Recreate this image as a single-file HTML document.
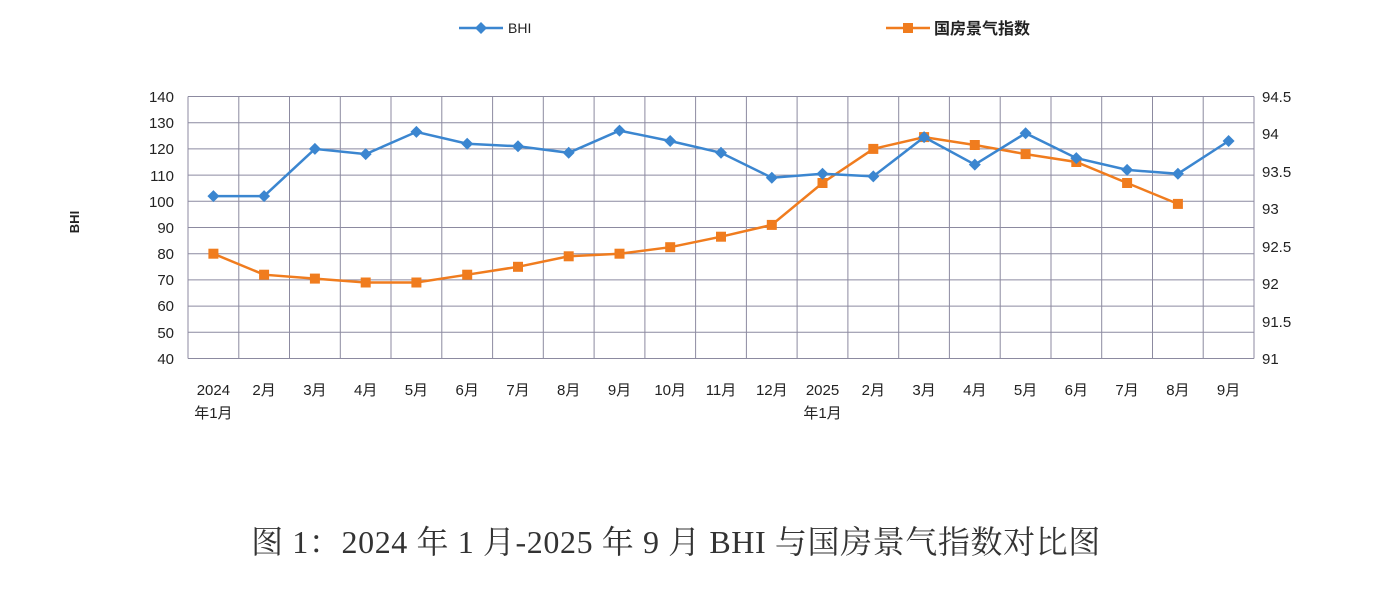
<!DOCTYPE html><html><head><meta charset="utf-8"><style>body{margin:0;background:#fff}svg{display:block}</style></head><body>
<svg width="1392" height="592" xmlns="http://www.w3.org/2000/svg" font-family="Liberation Sans, Noto Sans CJK SC, sans-serif">
<defs>
<marker id="d" markerWidth="14" markerHeight="14" refX="7" refY="7" markerUnits="userSpaceOnUse"><polygon points="7,1 13,7 7,13 1,7" fill="#3b86d0"/></marker>
<marker id="s" markerWidth="12" markerHeight="12" refX="6" refY="6" markerUnits="userSpaceOnUse"><rect x="1" y="1" width="10" height="10" fill="#f07c1e"/></marker>
</defs>
<rect width="1392" height="592" fill="#fff"/>
<g stroke="#8c8aa0" stroke-width="1">
<line x1="188" x2="1254" y1="96.5" y2="96.5"/><line x1="188" x2="1254" y1="122.7" y2="122.7"/><line x1="188" x2="1254" y1="148.9" y2="148.9"/><line x1="188" x2="1254" y1="175.1" y2="175.1"/><line x1="188" x2="1254" y1="201.3" y2="201.3"/><line x1="188" x2="1254" y1="227.5" y2="227.5"/><line x1="188" x2="1254" y1="253.7" y2="253.7"/><line x1="188" x2="1254" y1="279.9" y2="279.9"/><line x1="188" x2="1254" y1="306.1" y2="306.1"/><line x1="188" x2="1254" y1="332.3" y2="332.3"/><line x1="188" x2="1254" y1="358.5" y2="358.5"/>
<line x1="188" x2="188" y1="96.5" y2="358.5"/><line x1="238.8" x2="238.8" y1="96.5" y2="358.5"/><line x1="289.5" x2="289.5" y1="96.5" y2="358.5"/><line x1="340.3" x2="340.3" y1="96.5" y2="358.5"/><line x1="391" x2="391" y1="96.5" y2="358.5"/><line x1="441.8" x2="441.8" y1="96.5" y2="358.5"/><line x1="492.6" x2="492.6" y1="96.5" y2="358.5"/><line x1="543.3" x2="543.3" y1="96.5" y2="358.5"/><line x1="594.1" x2="594.1" y1="96.5" y2="358.5"/><line x1="644.9" x2="644.9" y1="96.5" y2="358.5"/><line x1="695.6" x2="695.6" y1="96.5" y2="358.5"/><line x1="746.4" x2="746.4" y1="96.5" y2="358.5"/><line x1="797.1" x2="797.1" y1="96.5" y2="358.5"/><line x1="847.9" x2="847.9" y1="96.5" y2="358.5"/><line x1="898.7" x2="898.7" y1="96.5" y2="358.5"/><line x1="949.4" x2="949.4" y1="96.5" y2="358.5"/><line x1="1000.2" x2="1000.2" y1="96.5" y2="358.5"/><line x1="1051" x2="1051" y1="96.5" y2="358.5"/><line x1="1101.7" x2="1101.7" y1="96.5" y2="358.5"/><line x1="1152.5" x2="1152.5" y1="96.5" y2="358.5"/><line x1="1203.2" x2="1203.2" y1="96.5" y2="358.5"/><line x1="1254" x2="1254" y1="96.5" y2="358.5"/>
</g>
<g font-size="15" fill="#222" text-anchor="end">
<text x="174" y="102">140</text><text x="174" y="128">130</text><text x="174" y="154">120</text><text x="174" y="181">110</text><text x="174" y="207">100</text><text x="174" y="233">90</text><text x="174" y="259">80</text><text x="174" y="285">70</text><text x="174" y="311">60</text><text x="174" y="338">50</text><text x="174" y="364">40</text>
</g>
<g font-size="15" fill="#222">
<text x="1262" y="102">94.5</text><text x="1262" y="139">94</text><text x="1262" y="177">93.5</text><text x="1262" y="214">93</text><text x="1262" y="252">92.5</text><text x="1262" y="289">92</text><text x="1262" y="327">91.5</text><text x="1262" y="364">91</text>
</g>
<g font-size="15" fill="#222" text-anchor="middle">
<text x="213.4" y="395">2024</text><text x="264.1" y="395">2月</text><text x="314.9" y="395">3月</text><text x="365.7" y="395">4月</text><text x="416.4" y="395">5月</text><text x="467.2" y="395">6月</text><text x="518" y="395">7月</text><text x="568.7" y="395">8月</text><text x="619.5" y="395">9月</text><text x="670.2" y="395">10月</text><text x="721" y="395">11月</text><text x="771.8" y="395">12月</text><text x="822.5" y="395">2025</text><text x="873.3" y="395">2月</text><text x="924.1" y="395">3月</text><text x="974.8" y="395">4月</text><text x="1025.6" y="395">5月</text><text x="1076.3" y="395">6月</text><text x="1127.1" y="395">7月</text><text x="1177.9" y="395">8月</text><text x="1228.6" y="395">9月</text>
<text x="213.4" y="418">年1月</text><text x="822.5" y="418">年1月</text>
</g>
<polyline fill="none" stroke="#f07c1e" stroke-width="2.5" marker-start="url(#s)" marker-mid="url(#s)" marker-end="url(#s)" points="213.4,253.7 264.1,274.7 314.9,278.6 365.7,282.5 416.4,282.5 467.2,274.7 518,266.8 568.7,256.3 619.5,253.7 670.2,247.2 721,236.7 771.8,224.9 822.5,183 873.3,148.9 924.1,137.1 974.8,145 1025.6,154.1 1076.3,162 1127.1,183 1177.9,203.9"/>
<polyline fill="none" stroke="#3b86d0" stroke-width="2.5" marker-start="url(#d)" marker-mid="url(#d)" marker-end="url(#d)" points="213.4,196.1 264.1,196.1 314.9,148.9 365.7,154.1 416.4,131.9 467.2,143.7 518,146.3 568.7,152.8 619.5,130.6 670.2,141 721,152.8 771.8,177.7 822.5,173.8 873.3,176.4 924.1,137.1 974.8,164.6 1025.6,133.2 1076.3,158.1 1127.1,169.9 1177.9,173.8 1228.6,141"/>
<line x1="459" x2="503" y1="28" y2="28" stroke="#3b86d0" stroke-width="2.5"/><polygon points="481,22 487,28 481,34 475,28" fill="#3b86d0"/><text x="508" y="33" font-size="14" fill="#222">BHI</text>
<line x1="886" x2="930" y1="28" y2="28" stroke="#f07c1e" stroke-width="2.5"/><rect x="903" y="23" width="10" height="10" fill="#f07c1e"/><text x="934" y="34" font-size="16" font-weight="bold" fill="#222">国房景气指数</text>
<text x="74" y="227" font-size="13" font-weight="bold" fill="#222" text-anchor="middle" transform="rotate(-90 74 222)">BHI</text>
<text x="676" y="553" font-size="32" letter-spacing="0.6" text-anchor="middle" fill="#333" font-family="Liberation Serif, Noto Serif CJK SC, serif">图 1：2024 年 1 月-2025 年 9 月 BHI 与国房景气指数对比图</text>
</svg></body></html>
